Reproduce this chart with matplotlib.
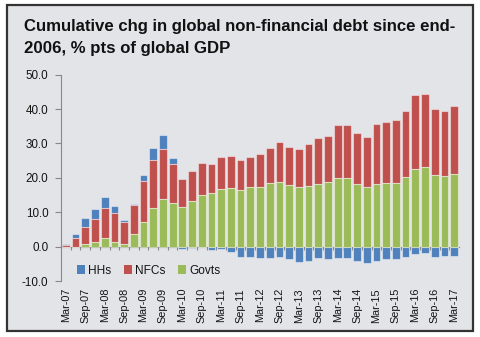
import matplotlib
matplotlib.use("Agg")
import matplotlib.pyplot as plt
from matplotlib.patches import Rectangle
import numpy as np

quarters = ["Mar-07", "Jun-07", "Sep-07", "Dec-07", "Mar-08", "Jun-08", "Sep-08", "Dec-08",
            "Mar-09", "Jun-09", "Sep-09", "Dec-09", "Mar-10", "Jun-10", "Sep-10", "Dec-10",
            "Mar-11", "Jun-11", "Sep-11", "Dec-11", "Mar-12", "Jun-12", "Sep-12", "Dec-12",
            "Mar-13", "Jun-13", "Sep-13", "Dec-13", "Mar-14", "Jun-14", "Sep-14", "Dec-14",
            "Mar-15", "Jun-15", "Sep-15", "Dec-15", "Mar-16", "Jun-16", "Sep-16", "Dec-16",
            "Mar-17"]

govts = [0.0, 0.0, 0.8, 1.4, 2.6, 1.4, 0.7, 3.8, 7.3, 11.3, 13.9, 12.6, 11.5, 13.4, 15.0, 15.5,
         16.8, 17.1, 16.6, 17.3, 17.4, 18.4, 18.9, 18.0, 17.4, 17.7, 18.1, 18.7, 19.9, 19.9,
         18.1, 17.3, 18.3, 18.5, 18.5, 20.2, 22.5, 23.1, 20.9, 20.5, 21.0]

nfcs = [0.4, 2.6, 4.9, 6.7, 8.7, 8.3, 6.6, 8.2, 11.7, 14.0, 14.4, 11.4, 8.1, 8.7, 9.4, 8.5,
        9.4, 9.4, 8.6, 8.9, 9.5, 10.2, 11.5, 10.9, 11.1, 12.0, 13.5, 13.6, 15.5, 15.5,
        14.8, 14.5, 17.4, 17.6, 18.3, 19.2, 21.5, 21.4, 19.2, 18.9, 20.0]

hhs = [0.4, 1.2, 2.6, 2.7, 3.0, 2.0, 0.4, 0.4, 1.8, 3.5, 4.1, 1.9, -0.7, -0.5, -0.2, -1.1,
       -0.8, -1.5, -2.9, -2.9, -3.4, -3.2, -3.1, -3.6, -4.5, -4.1, -3.2, -3.5, -3.2, -3.4,
       -4.1, -4.8, -4.2, -3.7, -3.5, -3.1, -2.2, -1.9, -2.9, -2.8, -2.6]

y_ticks = [-10, 0, 10, 20, 30, 40, 50]

title = "Cumulative chg in global non-financial debt since end-\n2006, % pts of global GDP"

C_HH = "#4f81bd"
C_NFC = "#c0504d"
C_GOV = "#9bbb59"
BG = "#e2e4e7"
TXT = "#141414"

W, H = 480, 337
fig = plt.figure(figsize=(W / 100, H / 100), dpi=100)
fig.patch.set_facecolor("white")
fig.patches.append(Rectangle((7 / W, 1 - 331 / H), 466 / W, 326 / H, transform=fig.transFigure,
                             facecolor=BG, edgecolor="#333333", linewidth=1.6, zorder=-10))

fig.text(24 / W, 1 - 19 / H, title, ha="left", va="top", fontsize=12.1, fontweight="bold",
         family="Liberation Sans", color="#111111", linespacing=1.55)

ax = fig.add_axes([61 / W, 1 - 281 / H, 398 / W, (281 - 74.7) / H])
ax.set_facecolor("none")

x = np.arange(len(quarters))
g = np.array(govts)
n = np.array(nfcs)
h = np.array(hhs)
hh_bottom = np.where(h > 0, g + n, 0)

bw = 0.8
ec = (1, 1, 1, 0.45)
ax.bar(x, h, bw, bottom=hh_bottom, color=C_HH, edgecolor=ec, linewidth=0.8, label="HHs")
ax.bar(x, n, bw, bottom=g, color=C_NFC, edgecolor=ec, linewidth=0.8, label="NFCs")
ax.bar(x, g, bw, color=C_GOV, edgecolor=ec, linewidth=0.8, label="Govts")

ax.set_xlim(-0.5, len(quarters) - 0.5)
ax.set_ylim(-10, 50)
ax.set_yticks(y_ticks)
ax.set_yticklabels([f"{v:.1f}" for v in y_ticks], family="Liberation Sans", fontsize=8.4,
                   color=TXT)
ax.tick_params(axis="y", length=4, width=0.8, color="#888888", pad=5)

for s in ["top", "right", "bottom"]:
    ax.spines[s].set_visible(False)
ax.spines["left"].set_color("#888888")
ax.spines["left"].set_linewidth(0.8)

ax.set_xticks(x[::2])
ax.set_xticklabels(quarters[::2], rotation=90, family="Liberation Sans", fontsize=7.8,
                   color=TXT)
ax.tick_params(axis="x", length=0, pad=5)

sec = ax.secondary_xaxis(10 / 60)
sec.set_xticks(np.arange(0.5, len(quarters) - 1, 1.0))
sec.set_xticklabels([])
sec.tick_params(axis="x", length=2.5, width=0.8, color="#888888")
sec.spines["bottom"].set_color("#888888")
sec.spines["bottom"].set_linewidth(0.8)

leg = ax.legend(loc="center left", bbox_to_anchor=(0.012, 0.05), ncol=3, frameon=False,
                handlelength=0.7, handleheight=0.7, handletextpad=0.3, columnspacing=1.0,
                prop={"family": "Liberation Sans", "size": 8.6})
for t in leg.get_texts():
    t.set_color(TXT)
for p in leg.get_patches():
    p.set_edgecolor("none")

fig.savefig("out.png", dpi=100)
